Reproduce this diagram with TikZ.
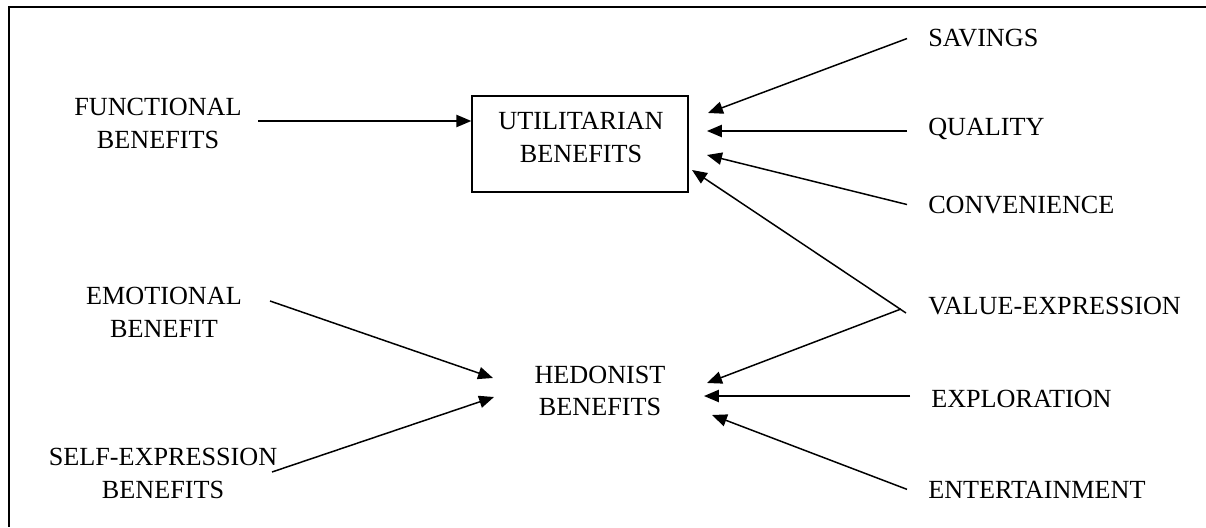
\documentclass[tikz,border=0pt]{standalone}
\usepackage{fontspec}
\setmainfont{Liberation Serif}
\usetikzlibrary{arrows.meta}
\begin{document}
\begin{tikzpicture}[x=0.02cm,y=-0.02cm,
  every node/.style={font=\fontsize{14.9}{18.7}\selectfont},
  lbl/.style={inner sep=0pt,align=center},
  rlbl/.style={anchor=base west,inner xsep=11.9pt,inner ysep=0pt},
  ubx/.style={draw,line width=0.85pt,minimum width=216*0.02cm,minimum height=96*0.02cm,inner sep=0pt},
  arr/.style={line width=0.85pt,-{Triangle[length=8.5pt,width=7pt]}},
  frm/.style={line width=0.9pt}]
\useasboundingbox (0,0) rectangle (1206,527);
% frame
\draw[frm] (1206,7) -- (9,7) -- (9,527);
% central nodes
\node[ubx] (ubox) at (580,144) {};
\node[lbl] (utxt) at (581,137.5) {UTILITARIAN\\BENEFITS};
\node[lbl] (hed) at (600,391) {HEDONIST\\BENEFITS};
% left nodes
\node[lbl] (fun) at (158,123.5) {FUNCTIONAL\\BENEFITS};
\node[lbl] (emo) at (164,312.5) {EMOTIONAL\\BENEFIT};
\node[lbl] (self) at (163,473.5) {SELF-EXPRESSION\\BENEFITS};
% right nodes
\node[rlbl] (sav) at (907,47) {SAVINGS};
\node[rlbl] (qua) at (907,135) {QUALITY};
\node[rlbl] (con) at (907,213) {CONVENIENCE};
\node[rlbl] (val) at (907,314) {VALUE-EXPRESSION};
\node[rlbl] (exp) at (910,407) {EXPLORATION};
\node[rlbl] (ent) at (907,498) {ENTERTAINMENT};
% connector ends
\coordinate (fo) at (258,121);
\coordinate (u1) at (708,113);
\coordinate (u2) at (707,131);
\coordinate (u3) at (707,155);
\coordinate (u4) at (692,170);
\coordinate (vxa) at (906,313);
\coordinate (vx) at (901,309);
\coordinate (h1) at (707,383);
\coordinate (h2) at (704,396);
\coordinate (h3) at (712,415);
\coordinate (eo) at (270,301);
\coordinate (so) at (272,472);
\coordinate (hl1) at (493,378);
\coordinate (hl2) at (494,397);
% connectors
\draw[arr] (fo) -- (fo -| ubox.west);
\draw[arr] (sav.west) -- (u1);
\draw[arr] (qua.west |- u2) -- (u2);
\draw[arr] (con.west) -- (u3);
\draw[arr] (vxa) -- (u4);
\draw[arr] (vx) -- (h1);
\draw[arr] (exp.west |- h2) -- (h2);
\draw[arr] (ent.west) -- (h3);
\draw[arr] (eo) -- (hl1);
\draw[arr] (so) -- (hl2);
\end{tikzpicture}
\end{document}
